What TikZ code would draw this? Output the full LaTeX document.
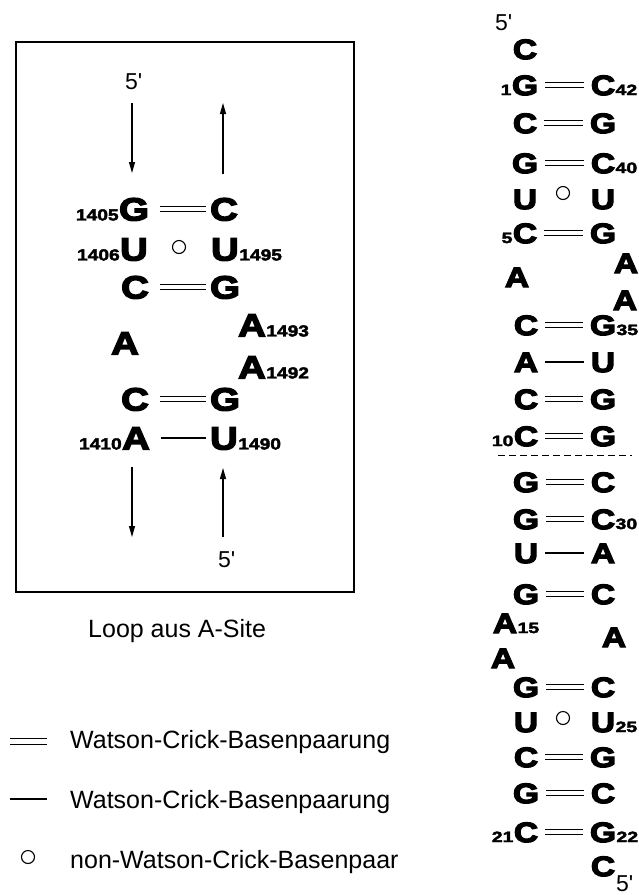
\documentclass[tikz,border=0pt]{standalone}
\usepackage{fontspec}
\setmainfont{Liberation Sans}
\newfontfamily\txtfont{Liberation Sans}
\newfontfamily\nucfont[FakeStretch=1.2, BoldFeatures={FakeBold=4.5}]{Liberation Sans}
\newfontfamily\numfont[FakeStretch=1.2, BoldFeatures={FakeBold=2.5}]{Liberation Sans}
\newfontfamily\numfontR[FakeStretch=1.3, BoldFeatures={FakeBold=2.5}]{Liberation Sans}
\usetikzlibrary{arrows.meta}
\tikzset{
  nl/.style={inner sep=0pt, text height=22.9pt, text depth=0pt, font={\nucfont\bfseries\fontsize{32}{32}\selectfont}},
  nr/.style={inner sep=0pt, text height=20.1pt, text depth=0pt, font={\nucfont\bfseries\fontsize{28}{28}\selectfont}},
  numL/.style={inner sep=0pt, font={\numfont\bfseries\fontsize{16}{16}\selectfont}},
  numR/.style={inner sep=0pt, font={\numfontR\bfseries\fontsize{15}{15}\selectfont}},
  wc/.style={draw, line width=1.2pt, double distance=3.6pt},
  au/.style={draw, line width=1.2pt},
  nwc/.style={draw, circle, line width=1.1pt, minimum size=13pt, inner sep=0pt},
  arr/.style={draw, line width=1.2pt, -{Triangle[length=11pt,width=6pt]}},
  lbl/.style={inner sep=0pt, font={\txtfont\fontsize{25}{25}\selectfont}},
  prime/.style={inner sep=0pt, font={\txtfont\fontsize{23}{23}\selectfont}},
  wcL/.style={wc, shorten <=11pt, shorten >=4pt},
  auL/.style={au, shorten <=11pt, shorten >=4pt},
  wcR/.style={wc, shorten <=6.5pt, shorten >=6.5pt},
  auR/.style={au, shorten <=6.5pt, shorten >=6.5pt},
}
\begin{document}
\begin{tikzpicture}[x=1pt,y=-1pt]
\useasboundingbox (0,0) rectangle (639,895);

% ---------- left box ----------
\node[draw, line width=1.2pt, minimum width=338pt, minimum height=550pt, inner sep=0pt] (frame) at (185,317) {};

\node[prime, anchor=base west] (p5a) at (125,89) {5'};
\node[prime, anchor=base west] (p5b) at (218,567) {5'};

\coordinate (ar1a) at (132,103); \coordinate (ar1b) at (132,173);
\coordinate (ar2a) at (223,174); \coordinate (ar2b) at (223,103);
\coordinate (ar3a) at (132,467); \coordinate (ar3b) at (132,537);
\coordinate (ar4a) at (223,537); \coordinate (ar4b) at (223,468);
\draw[arr] (ar1a) -- (ar1b);
\draw[arr] (ar2a) -- (ar2b);
\draw[arr] (ar3a) -- (ar3b);
\draw[arr] (ar4a) -- (ar4b);

\node[nl] (L1l) at (134,209) {G}; \node[nl] (L1r) at (224,209) {C};
\node[nl] (L2l) at (134,249) {U}; \node[nl] (L2r) at (225,249) {U};
\node[nwc] (L2o) at (179,247) {};
\node[nl] (L3l) at (135,287) {C}; \node[nl] (L3r) at (225,287) {G};
\node[nl] (Lal) at (125,343) {A};
\node[nl] (La93) at (252,325) {A};
\node[nl] (La92) at (252,367) {A};
\node[nl] (L4l) at (135,399) {C}; \node[nl] (L4r) at (225,399) {G};
\node[nl] (L5l) at (136,438) {A}; \node[nl] (L5r) at (224,438) {U};

\node[numL, anchor=base east] (n1405) at (L1l.base west) {1405};
\node[numL, anchor=base east] (n1406) at (L2l.base west) {1406};
\node[numL, anchor=base west] (n1495) at (L2r.base east) {1495};
\node[numL, anchor=base west] (n1493) at (La93.base east) {1493};
\node[numL, anchor=base west] (n1492) at (La92.base east) {1492};
\node[numL, anchor=base east] (n1410) at (L5l.base west) {1410};
\node[numL, anchor=base west] (n1490) at (L5r.base east) {1490};

\draw[wcL] (L1l) -- (L1r);
\draw[wcL] (L3l) -- (L3r);
\draw[wcL] (L4l) -- (L4r);
\draw[auL] (L5l) -- (L5r);

\node[lbl, anchor=base west] (cap) at (88,637) {Loop aus A-Site};

% ---------- legend ----------
\coordinate (lg1a) at (10,741.5); \coordinate (lg1b) at (47,741.5);
\coordinate (lg2a) at (10,799); \coordinate (lg2b) at (47,799);
\draw[wc, double distance=5pt] (lg1a) -- (lg1b);
\draw[au] (lg2a) -- (lg2b);
\node[nwc] (lg3) at (28,857) {};
\node[lbl, anchor=base west] (lt1) at (70,748) {Watson-Crick-Basenpaarung};
\node[lbl, anchor=base west] (lt2) at (70,808) {Watson-Crick-Basenpaarung};
\node[lbl, anchor=base west] (lt3) at (70,868) {non-Watson-Crick-Basenpaar};

% ---------- right stem ----------
\node[prime, anchor=base west] (q5a) at (495,30) {5'};
\node[nr] (R0) at (525,49) {C};
\node[nr] (R1l) at (525,85) {G}; \node[nr] (R1r) at (603,85) {C};
\node[nr] (R2l) at (525,123) {C}; \node[nr] (R2r) at (603,123) {G};
\node[nr] (R3l) at (525,163) {G}; \node[nr] (R3r) at (603,163) {C};
\node[nr] (R4l) at (525,199) {U}; \node[nr] (R4r) at (603,199) {U};
\node[nwc] (R4o) at (563,193) {};
\node[nr] (R5l) at (525,233) {C}; \node[nr] (R5r) at (603,233) {G};
\node[nr] (Ra1) at (517,277) {A};
\node[nr] (Ra2) at (626,263) {A};
\node[nr] (Ra3) at (625,300) {A};
\node[nr] (R6l) at (526,325) {C}; \node[nr] (R6r) at (603,325) {G};
\node[nr] (R7l) at (526,362) {A}; \node[nr] (R7r) at (603,362) {U};
\node[nr] (R8l) at (526,399) {C}; \node[nr] (R8r) at (603,399) {G};
\node[nr] (R9l) at (526,436) {C}; \node[nr] (R9r) at (603,436) {G};
\coordinate (dsa) at (498,455); \coordinate (dsb) at (632,455);
\draw[line width=1pt, dash pattern=on 7pt off 4pt] (dsa) -- (dsb);
\node[nr] (R10l) at (526,482) {G}; \node[nr] (R10r) at (603,482) {C};
\node[nr] (R11l) at (526,519) {G}; \node[nr] (R11r) at (603,519) {C};
\node[nr] (R12l) at (526,553) {U}; \node[nr] (R12r) at (603,553) {A};
\node[nr] (R13l) at (526,594) {G}; \node[nr] (R13r) at (603,594) {C};
\node[nr] (Ra4) at (505,623) {A};
\node[nr] (Ra5) at (614,637) {A};
\node[nr] (Ra6) at (503,658) {A};
\node[nr] (R14l) at (526,687) {G}; \node[nr] (R14r) at (603,687) {C};
\node[nr] (R15l) at (526,722) {U}; \node[nr] (R15r) at (603,722) {U};
\node[nwc] (R15o) at (563,718) {};
\node[nr] (R16l) at (526,757) {C}; \node[nr] (R16r) at (603,757) {G};
\node[nr] (R17l) at (526,793) {G}; \node[nr] (R17r) at (603,793) {C};
\node[nr] (R18l) at (526,832) {C}; \node[nr] (R18r) at (603,832) {G};
\node[nr] (R19) at (603,866) {C};
\node[prime, anchor=base west] (q5b) at (616,891) {5'};

\node[numR, anchor=base east] (m1) at (R1l.base west) {1};
\node[numR, anchor=base west] (m42) at (R1r.base east) {42};
\node[numR, anchor=base west] (m40) at (R3r.base east) {40};
\node[numR, anchor=base east] (m5) at (R5l.base west) {5};
\node[numR, anchor=base west] (m35) at (R6r.base east) {35};
\node[numR, anchor=base east] (m10) at (R9l.base west) {10};
\node[numR, anchor=base west] (m30) at (R11r.base east) {30};
\node[numR, anchor=base west] (m15) at (Ra4.base east) {15};
\node[numR, anchor=base west] (m25) at (R15r.base east) {25};
\node[numR, anchor=base east] (m21) at (R18l.base west) {21};
\node[numR, anchor=base west] (m22) at (R18r.base east) {22};

\draw[wcR] (R1l) -- (R1r);
\draw[wcR] (R2l) -- (R2r);
\draw[wcR] (R3l) -- (R3r);
\draw[wcR] (R5l) -- (R5r);
\draw[wcR] (R6l) -- (R6r);
\draw[auR] (R7l) -- (R7r);
\draw[wcR] (R8l) -- (R8r);
\draw[wcR] (R9l) -- (R9r);
\draw[wcR] (R10l) -- (R10r);
\draw[wcR] (R11l) -- (R11r);
\draw[auR] (R12l) -- (R12r);
\draw[wcR] (R13l) -- (R13r);
\draw[wcR] (R14l) -- (R14r);
\draw[wcR] (R16l) -- (R16r);
\draw[wcR] (R17l) -- (R17r);
\draw[wcR] (R18l) -- (R18r);
\end{tikzpicture}
\end{document}
